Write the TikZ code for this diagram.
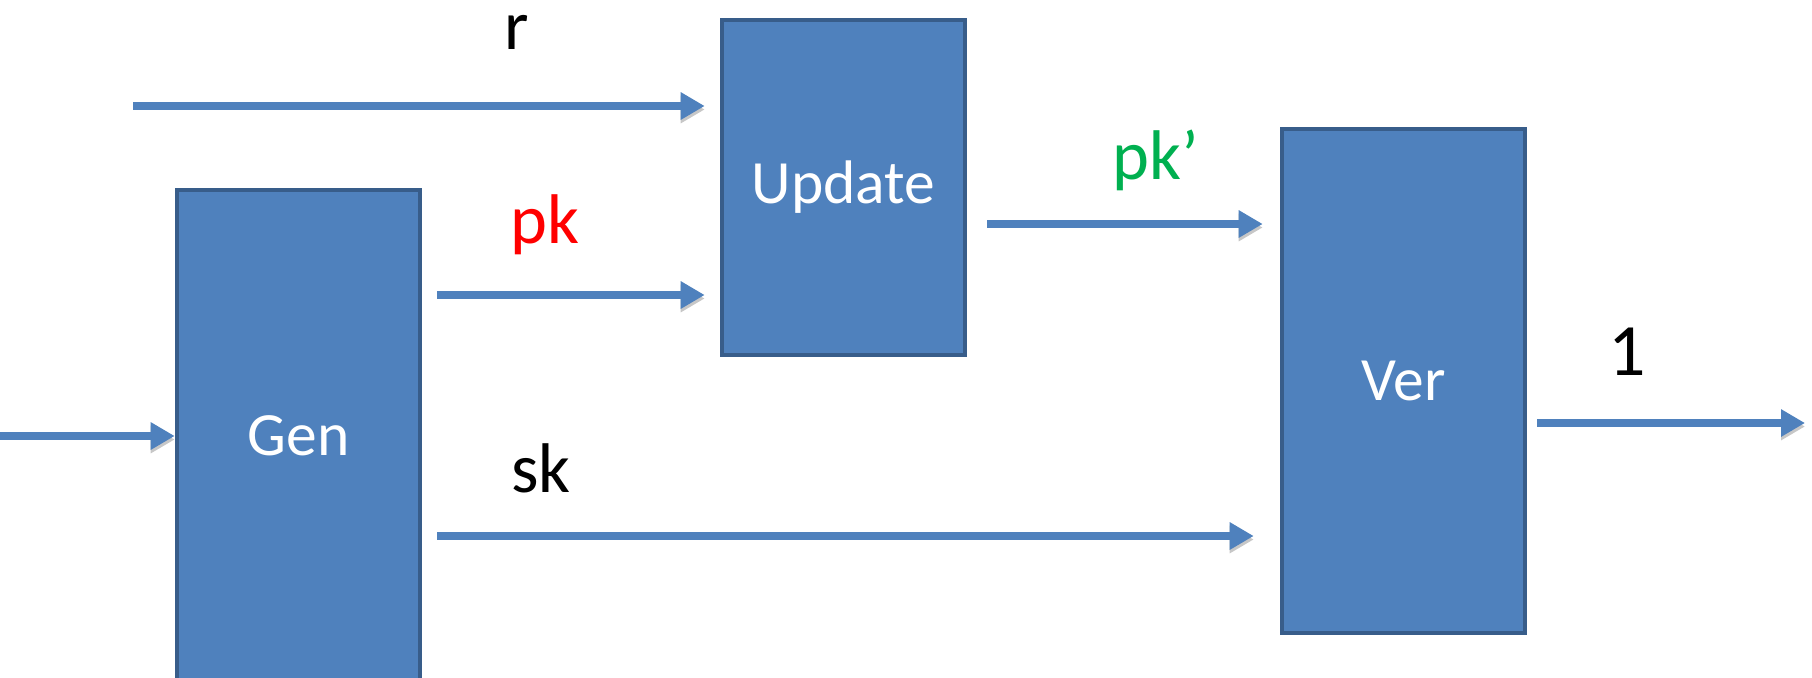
\documentclass[tikz,border=0pt]{standalone}
\usepackage{fontspec}
\setmainfont{Carlito}
\usepackage{xcolor}
\usetikzlibrary{arrows.meta}
\definecolor{boxfill}{HTML}{4F81BD}
\definecolor{boxline}{HTML}{385D8A}
\definecolor{pkgreen}{HTML}{00B050}

\begin{document}
\begin{tikzpicture}[box/.style = {draw=boxline, fill=boxfill, line width=1.3pt, text=white,
                       minimum width=2.43cm, font=\fontsize{17.5}{20}\selectfont},
              flow/.style = {draw=boxfill, line width=2.1pt,
                       -{Triangle[length=0.24cm,width=0.26cm]},
                       preaction={draw=black!22, transform canvas={yshift=-0.35mm}}},
              lbl/.style = {font=\fontsize{20}{24}\selectfont}]
              \useasboundingbox (0,0) rectangle (18.12,6.77);
              \clip (0,0) rectangle (18.12,6.77);
              \node[box, minimum height=4.92cm] (gen) at (2.985,2.41) {Gen};
              \node[box, minimum height=3.35cm] (update) at (8.435,4.895) {Update};
              \node[box, minimum height=5.04cm] (ver) at (14.035,2.96) {Ver};
              \coordinate (rin) at (1.33,5.71);
              \coordinate (pkrow) at (0,3.82);
              \coordinate (skrow) at (0,1.41);
              \coordinate (pkprow) at (0,4.53);
              \coordinate (genin) at (0,2.41);
              \coordinate (outrow) at (0,2.54);
              \coordinate (verout) at (18.05,2.54);
              \draw[flow] (rin) -- ([xshift=-1.5mm]update.west |- rin);
              \draw[flow] ([xshift=1.5mm]gen.east |- pkrow) -- ([xshift=-1.5mm]update.west |- pkrow);
              \draw[flow] ([xshift=2mm]update.east |- pkprow) -- ([xshift=-1.7mm]ver.west |- pkprow);
              \draw[flow] ([xshift=1.5mm]gen.east |- skrow) -- ([xshift=-2.6mm]ver.west |- skrow);
              \draw[flow] (genin) -- (gen.west |- genin);
              \draw[flow] ([xshift=1mm]ver.east |- outrow) -- (verout);
              \node[lbl] (rlbl) at (5.17,6.45) {r};
              \node[lbl, text=red] (pklbl) at (5.45,4.52) {pk};
              \node[lbl, text=pkgreen] (pkplbl) at (11.56,5.17) {pk’};
              \node[lbl] (sklbl) at (5.41,2.09) {sk};
              \node[lbl, font=\fontsize{21}{25}\selectfont] (onelbl) at (16.27,3.25) {1};
            \end{tikzpicture}
\end{document}
